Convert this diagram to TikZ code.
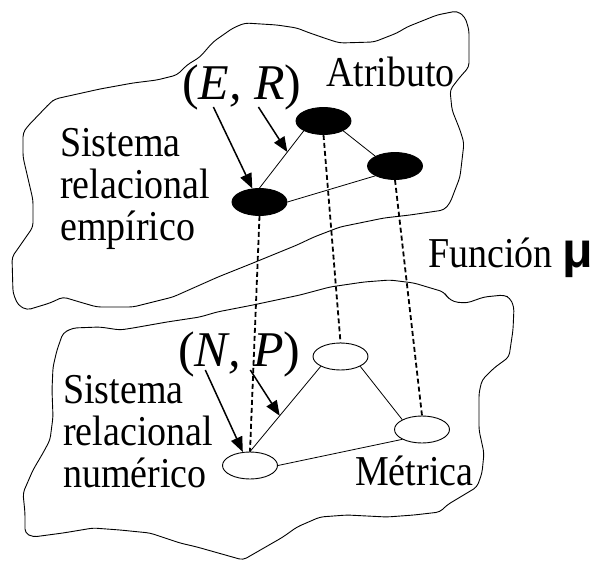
\documentclass[tikz,border=0pt]{standalone}
\usepackage{fontspec}
\setmainfont{Liberation Serif}
\newfontfamily\symfont{Liberation Sans}
\usetikzlibrary{shapes.geometric,arrows.meta,calc}

% taller type, as in the slide
\newcommand\tallbox[1]{\scalebox{1}[1.12]{#1}}

\tikzset{
  blob/.style={draw, line width=0.9pt, rounded corners=4pt},
  elem/.style={ellipse, draw, line width=0.9pt, minimum width=55pt,
    minimum height=27pt, inner sep=0pt},
  emp/.style={elem, fill=black},
  num/.style={elem, fill=white},
  rel/.style={line width=0.8pt},
  mapping/.style={line width=1.8pt, dash pattern=on 5pt off 3pt},
  ptr/.style={line width=1.5pt, -{Triangle[length=15pt,width=12pt]}},
  txt/.style={font=\fontsize{38}{42}\selectfont, inner sep=0pt, anchor=base west},
  bigtxt/.style={font=\fontsize{50}{54}\selectfont\itshape, inner sep=0pt, anchor=base west},
}

\begin{document}
\begin{tikzpicture}[x=1pt,y=-1pt]
  \useasboundingbox (0,0) rectangle (597,561);

  % empirical system (upper cloud)
  \draw[blob] (245,23) -- (277,25) -- (297,28) -- (307,32) -- (330,40) -- (340,43)
    -- (374,42) -- (397,33) -- (407,27) -- (437,15) -- (457,11) -- (465,17)
    -- (469,30) -- (469,67) -- (460,77) -- (450,90) -- (452,110) -- (460,130)
    -- (464,143) -- (460,177) -- (450,203) -- (444,210) -- (410,215) -- (384,218)
    -- (340,227) -- (314,237) -- (297,245) -- (253,263) -- (218,277) -- (173,297)
    -- (133,307) -- (97,307) -- (83,303) -- (63,297) -- (50,303) -- (27,310)
    -- (18,305) -- (13,293) -- (12,257) -- (17,250) -- (33,227) -- (33,200)
    -- (23,157) -- (23,133) -- (27,127) -- (50,103) -- (55,99) -- (100,89)
    -- (133,83) -- (157,80) -- (177,75) -- (187,65) -- (200,57) -- (213,42)
    -- (233,28) -- cycle;

  % numerical system (lower cloud)
  \draw[blob] (300,295) -- (330,287) -- (364,282) -- (390,280) -- (414,283)
    -- (444,292) -- (447,297) -- (454,302) -- (467,303) -- (484,297) -- (504,295)
    -- (510,298) -- (514,307) -- (513,330) -- (509,357) -- (494,368) -- (482,380)
    -- (479,393) -- (479,430) -- (484,453) -- (482,473) -- (477,487) -- (447,505)
    -- (440,512) -- (414,515) -- (387,517) -- (347,515) -- (320,517) -- (297,527)
    -- (283,537) -- (243,560) -- (197,547) -- (180,543) -- (150,533) -- (120,530)
    -- (93,528) -- (63,533) -- (33,537) -- (25,533) -- (25,513) -- (23,493)
    -- (33,470) -- (43,453) -- (50,440) -- (53,417) -- (52,390) -- (53,367)
    -- (57,350) -- (63,333) -- (73,328) -- (100,327) -- (120,330) -- (133,328)
    -- (167,322) -- (200,317) -- (217,312) -- (253,305) -- cycle;

  % elements
  \node[emp] (e1) at (259.5,202) {};
  \node[emp] (e2) at (323.5,121) {};
  \node[emp] (e3) at (395,166) {};
  \node[num] (n1) at (250,465.5) {};
  \node[num] (n2) at (340.5,356.5) {};
  \node[num] (n3) at (422,429.5) {};

  % relations
  \draw[rel] (e1.north) -- coordinate[pos=0.63] (relE) (e2.south west);
  \draw[rel] (e2.south east) -- (e3.north west);
  \draw[rel] (e1.east) -- (e3.south west);
  \draw[rel] (n1.north) -- coordinate[pos=0.42] (relN) (n2.south west);
  \draw[rel] (n2.south east) -- (n3.north west);
  \draw[rel] (n1.east) -- (n3.south west);

  % the function mu
  \draw[mapping] (e1.south) -- (n1.north);
  \draw[mapping] (e2.south) -- (n2.north);
  \draw[mapping] (e3.south) -- (n3.north);

  % labels
  \node[txt] (attr) at (326,87) {\tallbox{Atributo}};
  \node[txt, align=left] (empsys) at (60,241)
    {\tallbox{Sistema}\\\tallbox{relacional}\\\tallbox{empírico}};
  \node[txt, align=left] (numsys) at (63,487)
    {\tallbox{Sistema}\\\tallbox{relacional}\\\tallbox{numérico}};
  \node[txt] (metric) at (355,485) {\tallbox{Métrica}};
  \node[txt] (func) at (428,268)
    {\tallbox{Función} {\symfont\bfseries\fontsize{50}{52}\selectfont μ}};
  \node[bigtxt] (ER) at (182,100) {\upshape(\itshape E, R\upshape)};
  \node[bigtxt] (NP) at (178,366) {\upshape(\itshape N, P\upshape)};

  \draw[ptr] ($(ER.base)+(-28.5,7)$) -- (e1.118);
  \draw[ptr] ($(ER.base)+(16.5,7)$) -- (relE);
  \draw[ptr] ($(NP.base)+(-34,4)$) -- (n1.118);
  \draw[ptr] ($(NP.base)+(11,4)$) -- (relN);
\end{tikzpicture}
\end{document}
